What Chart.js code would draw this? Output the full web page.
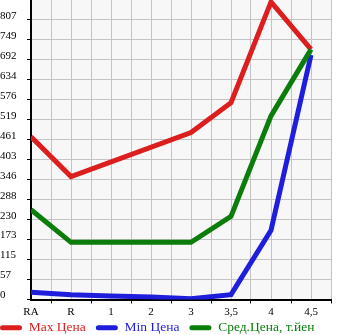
<!DOCTYPE html>
<html>
<head>
<meta charset="utf-8">
<script src="https://cdn.jsdelivr.net/npm/chart.js@4/dist/chart.umd.min.js"></script>
<style>
  html, body { margin: 0; padding: 0; background: #fff; }
  #wrap { width: 345px; height: 335px; }
</style>
</head>
<body>
<div id="wrap"><canvas id="chart" width="345" height="335"></canvas></div>
<script>
// values
const categories = ['RA', 'R', '1', '2', '3', '3,5', '4', '4,5'];
const maxPrice = [470, 355, null, null, 482, 568, 859, 722];
const minPrice = [21, 14, 10, 7, 2, 14, 200, 706];
const avgPrice = [259, 165, 165, 165, 165, 240, 530, 722];
const yTickLabels = ['0', '57', '115', '173', '230', '288', '346', '403', '461', '519', '576', '634', '692', '749', '807'];
const yStep = 57.64;
const yMax = 864.6;

const red = '#dc1e1e';
const blue = '#1e1edc';
const green = '#0a7d0a';
const serif = '"Liberation Serif", "DejaVu Serif", serif';

const toPoints = arr => arr.map((v, i) => ({ x: i, y: v }));

// plot background, legend nudged to the left edge, x labels not clipped
const plotBg = {
  id: 'plotBg',
  afterLayout(chart) {
    chart.legend.left -= 10;
    chart.legend.right -= 10;
    chart.scales.x.bottom = chart.height;
  },
  beforeDraw(chart) {
    const { ctx, chartArea: a } = chart;
    ctx.save();
    ctx.fillStyle = '#f7f7f7';
    ctx.fillRect(a.left, a.top, a.right - a.left, a.bottom - a.top);
    ctx.restore();
  }
};

const mkSet = (label, data, color, order) => ({
  label,
  data: toPoints(data),
  borderColor: color,
  backgroundColor: color,
  borderWidth: 5,
  pointRadius: 0,
  spanGaps: true,
  tension: 0,
  order
});

new Chart(document.getElementById('chart'), {
  type: 'line',
  data: {
    datasets: [
      mkSet('Max Цена', maxPrice, red, 3),
      mkSet('Min Цена', minPrice, blue, 2),
      mkSet('Сред.Цена, т.йен', avgPrice, green, 1)
    ]
  },
  options: {
    responsive: false,
    animation: false,
    layout: { padding: { left: 0, right: 0, top: 0, bottom: -9.5 } },
    plugins: {
      tooltip: { enabled: false },
      legend: {
        position: 'bottom',
        align: 'start',
        labels: {
          boxWidth: 22,
          boxHeight: 5,
          padding: 10,
          useBorderRadius: true,
          borderRadius: 2.5,
          font: { family: serif, size: 13.5 },
          generateLabels(chart) {
            return chart.data.datasets.map((ds, i) => ({
              text: ds.label,
              fillStyle: ds.borderColor,
              strokeStyle: ds.borderColor,
              fontColor: ds.borderColor,
              lineWidth: 0,
              borderRadius: 2.5,
              datasetIndex: i,
              hidden: false
            }));
          }
        }
      }
    },
    scales: {
      x: {
        type: 'linear',
        min: 0,
        max: 7.5,
        border: { color: '#000', width: 2 },
        grid: {
          color: '#c4c4c4',
          lineWidth: 1,
          tickLength: 4,
          tickColor: ctx => (ctx.tick && ctx.tick.value % 1 !== 0) ? '#000' : 'rgba(0,0,0,0)'
        },
        afterFit(scale) {
          scale.height = 11.5;
          scale.paddingLeft = 0;
          scale.paddingRight = 0;
        },
        ticks: {
          stepSize: 0.5,
          autoSkip: false,
          maxRotation: 0,
          padding: 2,
          color: '#000',
          font: { family: serif, size: 11 },
          callback: v => (v % 1 === 0 && categories[v] !== undefined) ? categories[v] : ''
        }
      },
      y: {
        min: 0,
        max: yMax,
        border: { color: '#000', width: 2 },
        grid: {
          color: '#c4c4c4',
          lineWidth: 1,
          tickLength: 4,
          tickColor: '#000'
        },
        afterBuildTicks(scale) {
          scale.ticks = yTickLabels.map((t, i) => ({ value: i * yStep }));
        },
        afterFit(scale) {
          scale.width = 31;
          scale.paddingTop = 0;
          scale.paddingBottom = 0;
        },
        ticks: {
          crossAlign: 'far',
          labelOffset: -4,
          color: '#000',
          font: { family: serif, size: 11 },
          callback: (v, i) => yTickLabels[i]
        }
      },
      // empty right-hand strip
      yRight: {
        position: 'right',
        min: 0,
        max: yMax,
        grid: { display: false },
        border: { display: false },
        ticks: { display: false },
        afterFit(scale) {
          scale.width = 14;
          scale.paddingTop = 0;
          scale.paddingBottom = 0;
        }
      }
    }
  },
  plugins: [plotBg]
});
</script>
</body>
</html>
